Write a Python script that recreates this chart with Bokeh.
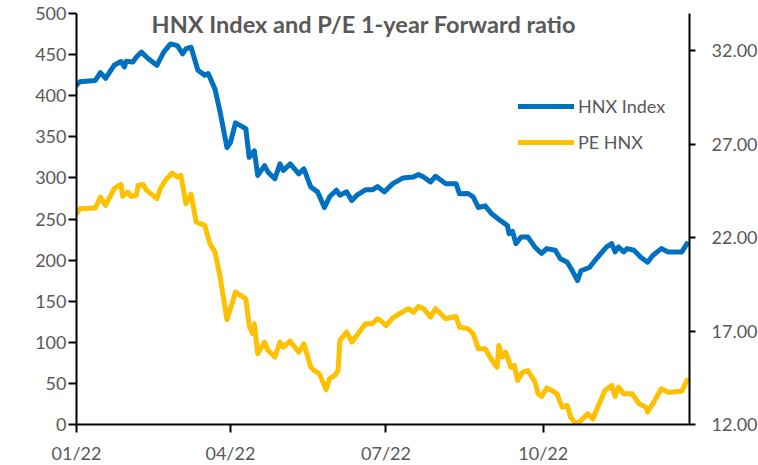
from datetime import datetime
import pandas as pd
from bokeh.plotting import figure
from bokeh.models import (Range1d, LinearAxis, FixedTicker, MonthsTicker,
                          DatetimeTickFormatter, PrintfTickFormatter, Legend,
                          LegendItem, Label)
from bokeh.embed import file_html
from bokeh.resources import INLINE

# ---------------- data ----------------
hnx_dates = [
    "2022-01-01", "2022-01-03", "2022-01-12", "2022-01-15", "2022-01-18", "2022-01-23",
    "2022-01-27", "2022-01-29", "2022-01-30", "2022-02-03", "2022-02-05", "2022-02-08",
    "2022-02-12", "2022-02-17", "2022-02-21", "2022-02-25", "2022-03-01", "2022-03-04",
    "2022-03-06", "2022-03-09", "2022-03-13", "2022-03-17", "2022-03-19", "2022-03-23",
    "2022-03-26", "2022-03-30", "2022-04-01", "2022-04-04", "2022-04-10", "2022-04-12",
    "2022-04-15", "2022-04-17", "2022-04-21", "2022-04-23", "2022-04-27", "2022-04-30",
    "2022-05-02", "2022-05-06", "2022-05-11", "2022-05-14", "2022-05-18", "2022-05-22",
    "2022-05-26", "2022-05-29", "2022-06-02", "2022-06-04", "2022-06-08", "2022-06-11",
    "2022-06-14", "2022-06-19", "2022-06-23", "2022-06-26", "2022-06-30", "2022-07-05",
    "2022-07-11", "2022-07-17", "2022-07-20", "2022-07-23", "2022-07-27", "2022-07-30",
    "2022-08-05", "2022-08-11", "2022-08-13", "2022-08-18", "2022-08-21", "2022-08-24",
    "2022-08-28", "2022-09-01", "2022-09-06", "2022-09-10", "2022-09-11", "2022-09-13",
    "2022-09-15", "2022-09-18", "2022-09-22", "2022-09-26", "2022-09-30", "2022-10-03",
    "2022-10-08", "2022-10-11", "2022-10-15", "2022-10-18", "2022-10-21", "2022-10-23",
    "2022-10-28", "2022-11-01", "2022-11-07", "2022-11-10", "2022-11-12", "2022-11-14",
    "2022-11-17", "2022-11-19", "2022-11-23", "2022-11-27", "2022-12-01", "2022-12-04",
    "2022-12-09", "2022-12-13", "2022-12-21", "2022-12-24",
]
hnx_index = [
    413, 417, 418.5, 428, 421, 437,
    441.6, 435, 442, 441, 447, 453,
    445, 437, 453, 463, 461, 451,
    457, 459, 431, 425, 427, 408,
    380, 337, 343, 367, 360, 325,
    333, 303, 315, 307, 299, 317,
    309, 317, 305, 311, 289, 283,
    264, 277, 285, 279, 283, 272.5,
    279, 285.5, 285.5, 289.5, 283, 293,
    300, 301, 304, 301, 295, 302,
    293, 293, 280.6, 281, 277, 264,
    266, 256, 248, 242, 232, 235,
    220, 228, 228, 216, 208, 214,
    212, 201.6, 197.5, 187, 175, 187,
    191, 201.6, 216, 220, 210, 216,
    210, 214, 212, 203.5, 197.5, 205.6,
    214, 210, 210, 220,
]

pe_dates = [
    "2022-01-01", "2022-01-03", "2022-01-12", "2022-01-15", "2022-01-18", "2022-01-23",
    "2022-01-27", "2022-01-28", "2022-01-31", "2022-02-02", "2022-02-05", "2022-02-06",
    "2022-02-09", "2022-02-11", "2022-02-17", "2022-02-19", "2022-02-22", "2022-02-26",
    "2022-03-01", "2022-03-03", "2022-03-06", "2022-03-09", "2022-03-12", "2022-03-17",
    "2022-03-20", "2022-03-23", "2022-03-26", "2022-03-30", "2022-04-04", "2022-04-10",
    "2022-04-12", "2022-04-14", "2022-04-15", "2022-04-17", "2022-04-21", "2022-04-23",
    "2022-04-27", "2022-04-30", "2022-05-02", "2022-05-06", "2022-05-11", "2022-05-14",
    "2022-05-18", "2022-05-20", "2022-05-23", "2022-05-27", "2022-05-29", "2022-06-01",
    "2022-06-03", "2022-06-04", "2022-06-08", "2022-06-11", "2022-06-14", "2022-06-16",
    "2022-06-19", "2022-06-23", "2022-06-26", "2022-06-28", "2022-07-01", "2022-07-05",
    "2022-07-09", "2022-07-14", "2022-07-17", "2022-07-20", "2022-07-23", "2022-07-27",
    "2022-07-30", "2022-08-05", "2022-08-11", "2022-08-13", "2022-08-18", "2022-08-21",
    "2022-08-24", "2022-08-28", "2022-09-01", "2022-09-04", "2022-09-05", "2022-09-07",
    "2022-09-09", "2022-09-12", "2022-09-14", "2022-09-16", "2022-09-19", "2022-09-22",
    "2022-09-26", "2022-09-28", "2022-09-30", "2022-10-03", "2022-10-06", "2022-10-09",
    "2022-10-12", "2022-10-15", "2022-10-17", "2022-10-20", "2022-10-23", "2022-10-27",
    "2022-10-30", "2022-11-01", "2022-11-06", "2022-11-10", "2022-11-12", "2022-11-14",
    "2022-11-17", "2022-11-22", "2022-11-26", "2022-11-30", "2022-12-01", "2022-12-04",
    "2022-12-09", "2022-12-13", "2022-12-21", "2022-12-24",
]
pe_hnx = [
    23.29, 23.55, 23.59, 24.17, 23.73, 24.62,
    24.85, 24.21, 24.44, 24.21, 24.27, 24.80,
    24.85, 24.53, 24.09, 24.62, 25.07, 25.46,
    25.25, 25.34, 23.82, 24.32, 22.84, 22.66,
    21.68, 21.23, 19.89, 17.61, 19.09, 18.73,
    17.30, 16.86, 17.39, 15.79, 16.41, 15.96,
    15.61, 16.41, 16.14, 16.46, 15.87, 16.32,
    15.07, 14.89, 14.72, 13.86, 14.45, 14.62,
    14.89, 16.50, 16.94, 16.41, 16.77, 17.03,
    17.39, 17.39, 17.66, 17.57, 17.30, 17.71,
    17.93, 18.20, 18.01, 18.32, 18.20, 17.75,
    18.20, 17.66, 17.78, 17.21, 17.13, 16.86,
    16.05, 16.05, 15.43, 15.07, 16.23, 15.61,
    15.87, 15.07, 15.16, 14.36, 14.80, 14.89,
    14.30, 13.64, 13.50, 13.95, 13.82, 13.64,
    12.93, 13.02, 12.39, 12.04, 12.21, 12.57,
    12.30, 12.75, 13.82, 14.09, 13.50, 14.00,
    13.64, 13.64, 13.11, 12.93, 12.66, 13.11,
    13.91, 13.73, 13.78, 14.36,
]

series_names = ["HNX Index", "PE HNX"]
title_text = "HNX Index and P/E 1-year Forward ratio"
left_ticks = [0, 50, 100, 150, 200, 250, 300, 350, 400, 450, 500]
right_ticks = [12, 17, 22, 27, 32]
left_range = (0, 500)
right_range = (12, 34)

# ---------------- figure ----------------
FONT = "Lato"
GREY = "#595959"
BLUE = "#0070C0"
GOLD = "#FFC000"

x_start = datetime(2022, 1, 1)
x_end = datetime(2022, 12, 25, 12)

p = figure(frame_width=613, frame_height=411, x_axis_type="datetime",
           x_range=Range1d(x_start, x_end), y_range=Range1d(*left_range),
           output_backend="svg", toolbar_location=None,
           min_border_left=76, min_border_right=69, min_border_top=13,
           min_border_bottom=38)
p.extra_y_ranges = {"pe": Range1d(*right_range)}
p.outline_line_color = None
p.xgrid.visible = False
p.ygrid.visible = False
p.background_fill_color = "white"
p.border_fill_color = "white"

right_axis = LinearAxis(y_range_name="pe", ticker=FixedTicker(ticks=right_ticks),
                        formatter=PrintfTickFormatter(format="%.2f"))
p.add_layout(right_axis, "right")

p.yaxis[0].ticker = FixedTicker(ticks=left_ticks)
p.xaxis[0].ticker = MonthsTicker(months=[0, 3, 6, 9])
p.xaxis[0].formatter = DatetimeTickFormatter(months="%m/%y", days="%m/%y",
                                             years="%m/%y")

for ax in p.xaxis + p.yaxis:
    ax.axis_line_color = "black"
    ax.axis_line_width = 2
    ax.major_tick_line_color = "black"
    ax.major_tick_line_width = 2
    ax.major_tick_in = 0
    ax.major_tick_out = 8
    ax.minor_tick_line_color = None
    ax.major_label_text_color = GREY
    ax.major_label_text_font = FONT
    ax.major_label_text_font_size = "18px"

p.yaxis[0].major_label_standoff = 2
right_axis.major_tick_out = 6
right_axis.major_label_standoff = 16
p.xaxis[0].major_label_standoff = 9

hnx_x = pd.to_datetime(hnx_dates)
pe_x = pd.to_datetime(pe_dates)

r_hnx = p.line(hnx_x, hnx_index, line_color=BLUE, line_width=5,
               line_join="round", line_cap="round")
r_pe = p.line(pe_x, pe_hnx, line_color=GOLD, line_width=5,
              line_join="round", line_cap="round", y_range_name="pe")

legend = Legend(items=[LegendItem(label=series_names[0], renderers=[r_hnx]),
                       LegendItem(label=series_names[1], renderers=[r_pe])],
                location=(442, 271), border_line_color=None,
                background_fill_alpha=0, label_text_color=GREY,
                label_text_font=FONT, label_text_font_size="18px",
                glyph_width=56, glyph_height=20, label_height=20,
                spacing=14, padding=0, margin=0, label_standoff=4)
p.add_layout(legend)

title = Label(x=datetime(2022, 6, 18), y=left_range[1], text=title_text,
              text_align="center", text_baseline="top", text_font=FONT,
              text_font_style="bold", text_font_size="23.5px", text_color=GREY,
              y_offset=4)
p.add_layout(title)

open("out.html", "w").write(file_html(p, INLINE))
